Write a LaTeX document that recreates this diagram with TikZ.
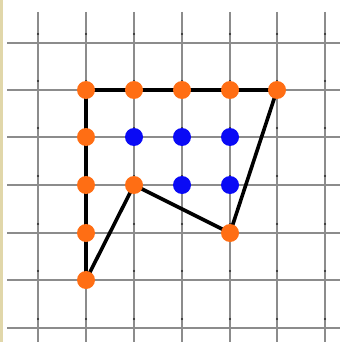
\documentclass[tikz,border=0pt]{standalone}
\usetikzlibrary{backgrounds}
\definecolor{gridgray}{RGB}{140,140,140}
\definecolor{tickdark}{RGB}{40,40,40}
\definecolor{dotorange}{RGB}{255,110,20}
\definecolor{dotblue}{RGB}{10,10,245}
\definecolor{stripbeige}{RGB}{225,215,170}
\begin{document}
\begin{tikzpicture}[x=1pt,y=-1pt,
  gridline/.style={draw=gridgray,line width=1.8pt},
  odot/.style={circle,fill=dotorange,inner sep=0pt,minimum size=18pt},
  bdot/.style={circle,fill=dotblue,inner sep=0pt,minimum size=18pt},
  edge/.style={line width=3.6pt,black,line join=round}]
\useasboundingbox (0,0) rectangle (340,342);
\node[odot] (o1) at (86,90) {};
\node[odot] (o2) at (134,90) {};
\node[odot] (o3) at (182,90) {};
\node[odot] (o4) at (230,90) {};
\node[odot] (o5) at (277,90) {};
\node[odot] (o6) at (86,137) {};
\node[odot] (o7) at (86,185) {};
\node[odot] (o8) at (86,233) {};
\node[odot] (o9) at (86,280) {};
\node[odot] (o10) at (134,185) {};
\node[odot] (o11) at (230,233) {};
\node[bdot] (b1) at (134,137) {};
\node[bdot] (b2) at (182,137) {};
\node[bdot] (b3) at (230,137) {};
\node[bdot] (b4) at (182,185) {};
\node[bdot] (b5) at (230,185) {};
\begin{scope}[on background layer]
\fill[white] (0,0) rectangle (340,342);
\foreach \y in {43,90,137,185,233,280,328} \draw[gridline] (7,\y) -- (340,\y);
\foreach \x in {38,86,134,182,230,277,325} {
  \draw[gridline] (\x,12) -- (\x,342);
  \foreach \y in {34,81,128,176,224,271,319} \fill[tickdark] (\x,\y) circle (1.1);
}
\draw[edge] (o1.center) -- (o5.center) -- (o11.center) -- (o10.center) -- (o9.center) -- cycle;
\fill[stripbeige] (0,0) rectangle (3,342);
\end{scope}
\end{tikzpicture}
\end{document}
